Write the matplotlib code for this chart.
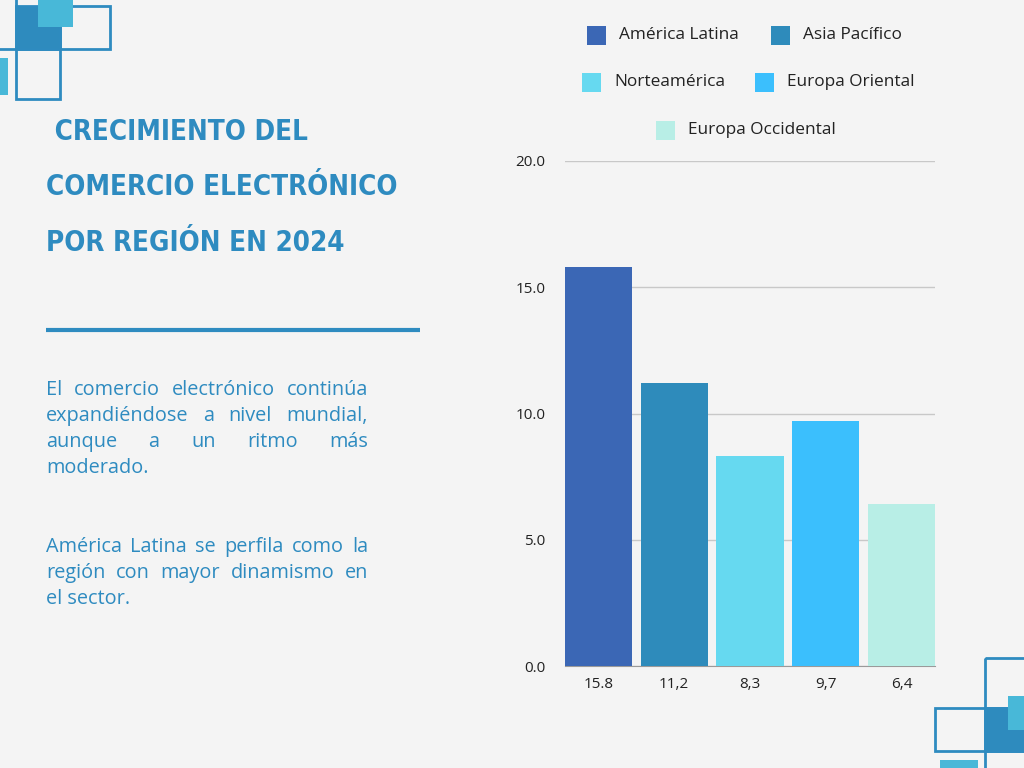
import matplotlib
matplotlib.use("Agg")
import matplotlib.pyplot as plt
from matplotlib.patches import Rectangle

# data
regions = ["América Latina", "Asia Pacífico", "Norteamérica", "Europa Oriental", "Europa Occidental"]
growth = [15.8, 11.2, 8.3, 9.7, 6.4]
bar_labels = ["15.8", "11,2", "8,3", "9,7", "6,4"]
colors = ["#3B67B5", "#2E8BBB", "#66D9F0", "#3BBFFD", "#B8EEE6"]

title_lines = [" CRECIMIENTO DEL", "COMERCIO ELECTRÓNICO", "POR REGIÓN EN 2024"]
para1 = ["El comercio electrónico continúa", "expandiéndose a nivel mundial,",
         "aunque a un ritmo más", "moderado."]
para2 = ["América Latina se perfila como la", "región con mayor dinamismo en", "el sector."]

BG = "#F4F4F4"
BLUE = "#2E8BC0"
LIGHT = "#48B8D8"
W, H = 1024, 768
BODY_FONT = ["Open Sans", "DejaVu Sans"]

fig = plt.figure(figsize=(10.24, 7.68), dpi=100, facecolor=BG)

# background decoration, pixel coordinates
deco = fig.add_axes([0, 0, 1, 1], zorder=0)
deco.set_xlim(0, W)
deco.set_ylim(H, 0)
deco.axis("off")


def box(x0, y0, x1, y1, fill="none", edge="none", lw=2):
    deco.add_patch(Rectangle((x0, y0), x1 - x0, y1 - y0, facecolor=fill,
                             edgecolor=edge, linewidth=lw))


# top-left squares
box(-34, -10, 16, 49, edge=BLUE)
box(60, 6, 110, 49, edge=BLUE)
box(16, 49, 60, 99, edge=BLUE)
box(16, 6, 60, 49, fill="#2E8BBE", edge=BLUE)
box(38, -2, 73, 27, fill=LIGHT)
box(-2, 58, 8, 95, fill=LIGHT)

# bottom-right squares
box(985, 658, 1040, 708, edge=BLUE)
box(935, 708, 985, 751, edge=BLUE)
box(985, 751, 1040, 800, edge=BLUE)
box(985, 708, 1026, 751, fill="#2E8BBE", edge=BLUE)
box(1008, 696, 1030, 730, fill=LIGHT)
box(940, 760, 978, 775, fill=LIGHT)

# separator line
deco.plot([46, 420], [330, 330], color=BLUE, lw=3, solid_capstyle="butt")

# title, sized so the widest line spans ~350 px
renderer = fig.canvas.get_renderer()
title_font = ["Liberation Sans Narrow", "DejaVu Sans"]
probe = fig.text(0, 0, title_lines[1], fontsize=30, family=title_font,
                 fontweight="heavy", fontstretch="condensed")
tw = probe.get_window_extent(renderer).width
probe.remove()
tsize = 30 * 352 / tw
for line, base in zip(title_lines, [140, 195, 251]):
    fig.text(46 / W, 1 - base / H, line, fontsize=tsize, family=title_font,
             fontweight="heavy", fontstretch="condensed", color=BLUE, va="baseline")


def justify(lines, baseline, x0=46, x1=368, lead=26, size=14.3):
    for i, line in enumerate(lines):
        y = 1 - (baseline + i * lead) / H
        words = line.split()
        if i == len(lines) - 1:
            fig.text(x0 / W, y, line, fontsize=size, family=BODY_FONT,
                     color=BLUE, va="baseline")
            continue
        texts = [fig.text(0, y, w, fontsize=size, family=BODY_FONT,
                          color=BLUE, va="baseline") for w in words]
        widths = [t.get_window_extent(renderer).width for t in texts]
        gap = (x1 - x0 - sum(widths)) / (len(words) - 1)
        x = x0
        for t, w in zip(texts, widths):
            t.set_x(x / W)
            x += w + gap


justify(para1, 395)
justify(para2, 552)

# bar chart
ax = fig.add_axes([565 / W, 102 / H, 370 / W, 505 / H], zorder=2)
ax.set_facecolor("none")
xs = range(len(growth))
ax.bar(xs, growth, width=0.885, color=colors, zorder=3)
ax.set_xlim(-0.4425, len(growth) - 1 + 0.4425)
ax.set_ylim(0, 20)
ax.set_yticks([0, 5, 10, 15, 20])
ax.set_yticklabels([f"{v:.1f}" for v in [0, 5, 10, 15, 20]])
ax.set_xticks(list(xs))
ax.set_xticklabels(bar_labels)
ax.yaxis.grid(True, color="#C8C8C8", lw=1, zorder=0)
for s in ["top", "right", "left"]:
    ax.spines[s].set_visible(False)
ax.spines["bottom"].set_color("#9A9A9A")
ax.tick_params(length=0, labelsize=11, colors="#222222")
ax.tick_params(axis="y", pad=14)
ax.tick_params(axis="x", pad=8)
for lab in ax.get_xticklabels() + ax.get_yticklabels():
    lab.set_family(BODY_FONT)

# legend, rows of 2, 2, 1
legend_pos = [(587, 35), (771, 35), (582, 82), (755, 82), (656, 130)]
for name, col, (lx, ly) in zip(regions, colors, legend_pos):
    deco.add_patch(Rectangle((lx, ly - 9.5), 19, 19, facecolor=col, edgecolor="none"))
    deco.text(lx + 32, ly, name, fontsize=12.4, family=BODY_FONT, color="#222222",
              va="center", ha="left")

fig.savefig("out.png", dpi=100, facecolor=BG)
